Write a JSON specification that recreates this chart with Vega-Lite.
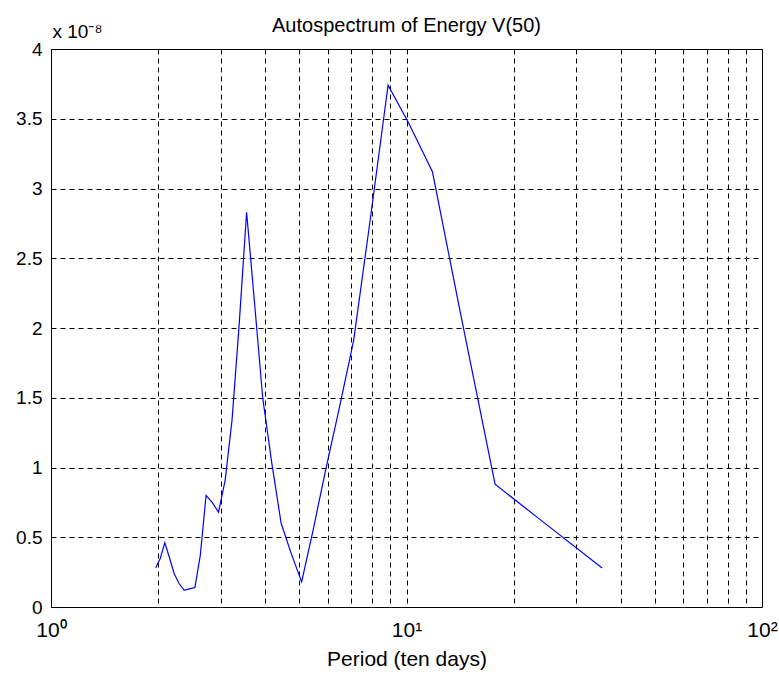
{
  "$schema": "https://vega.github.io/schema/vega-lite/v6.json",
  "autosize": {"type": "none"},
  "padding": {"left": 51, "top": 49, "right": 17, "bottom": 73},
  "width": 711,
  "height": 558,
  "background": "white",
  "title": {
    "text": "Autospectrum of Energy V(50)",
    "font": "Liberation Sans",
    "fontSize": 20,
    "fontWeight": "normal",
    "color": "black",
    "offset": -14
  },
  "config": {
    "view": {"stroke": "black", "strokeWidth": 1},
    "axis": {
      "labelFont": "Liberation Sans",
      "titleFont": "Liberation Sans",
      "labelColor": "black",
      "titleColor": "black",
      "labelFontSize": 19,
      "titleFontSize": 21,
      "titleFontWeight": "normal",
      "domain": false,
      "ticks": false,
      "grid": true,
      "gridColor": "black",
      "gridOpacity": 1,
      "gridDash": [5, 4],
      "gridWidth": 1
    }
  },
  "data": {
    "values": [
      {"period": 1.97, "power": 2.8e-9},
      {"period": 2.03, "power": 3.5e-9},
      {"period": 2.09, "power": 4.6e-9},
      {"period": 2.15, "power": 3.6e-9},
      {"period": 2.22, "power": 2.4e-9},
      {"period": 2.29, "power": 1.7e-9},
      {"period": 2.37, "power": 1.2e-9},
      {"period": 2.45, "power": 1.3e-9},
      {"period": 2.54, "power": 1.4e-9},
      {"period": 2.63, "power": 3.7e-9},
      {"period": 2.73, "power": 8.0e-9},
      {"period": 2.84, "power": 7.5e-9},
      {"period": 2.96, "power": 6.8e-9},
      {"period": 3.09, "power": 9.1e-9},
      {"period": 3.23, "power": 1.34e-8},
      {"period": 3.38, "power": 2.01e-8},
      {"period": 3.55, "power": 2.83e-8},
      {"period": 3.74, "power": 2.17e-8},
      {"period": 3.94, "power": 1.5e-8},
      {"period": 4.18, "power": 1.03e-8},
      {"period": 4.44, "power": 6.0e-9},
      {"period": 4.73, "power": 3.9e-9},
      {"period": 5.07, "power": 1.8e-9},
      {"period": 5.46, "power": 5.5e-9},
      {"period": 5.92, "power": 9.8e-9},
      {"period": 6.45, "power": 1.41e-8},
      {"period": 7.1, "power": 1.91e-8},
      {"period": 7.89, "power": 2.76e-8},
      {"period": 8.875, "power": 3.74e-8},
      {"period": 10.14, "power": 3.47e-8},
      {"period": 11.83, "power": 3.12e-8},
      {"period": 14.2, "power": 2.1e-8},
      {"period": 17.75, "power": 8.8e-9},
      {"period": 23.67, "power": 6.3e-9},
      {"period": 35.5, "power": 2.8e-9}
    ]
  },
  "mark": {"type": "line", "color": "#0000ff", "strokeWidth": 1.2, "clip": true},
  "encoding": {
    "x": {
      "field": "period",
      "type": "quantitative",
      "scale": {"type": "log", "domain": [1, 100], "nice": false},
      "axis": {
        "title": "Period (ten days)",
        "titlePadding": 8,
        "labelPadding": 12,
        "labelFontSize": 21,
        "values": [1, 2, 3, 4, 5, 6, 7, 8, 9, 10, 20, 30, 40, 50, 60, 70, 80, 90, 100],
        "labelExpr": "datum.value == 1 ? '10⁰' : datum.value == 10 ? '10¹' : datum.value == 100 ? '10²' : ''",
        "labelOverlap": false,
        "labelFlush": false
      }
    },
    "y": {
      "field": "power",
      "type": "quantitative",
      "scale": {"domain": [0, 4e-8], "nice": false, "zero": true},
      "axis": {
        "values": [0, 5e-9, 1e-8, 1.5e-8, 2e-8, 2.5e-8, 3e-8, 3.5e-8, 4e-8],
        "labelExpr": "format(datum.value * 1e8, '~g')",
        "labelPadding": 9,
        "title": "x 10⁻⁸",
        "titleAngle": 0,
        "titleAlign": "left",
        "titleBaseline": "alphabetic",
        "titleX": 1,
        "titleY": -12,
        "titleFontSize": 19
      }
    }
  }
}
